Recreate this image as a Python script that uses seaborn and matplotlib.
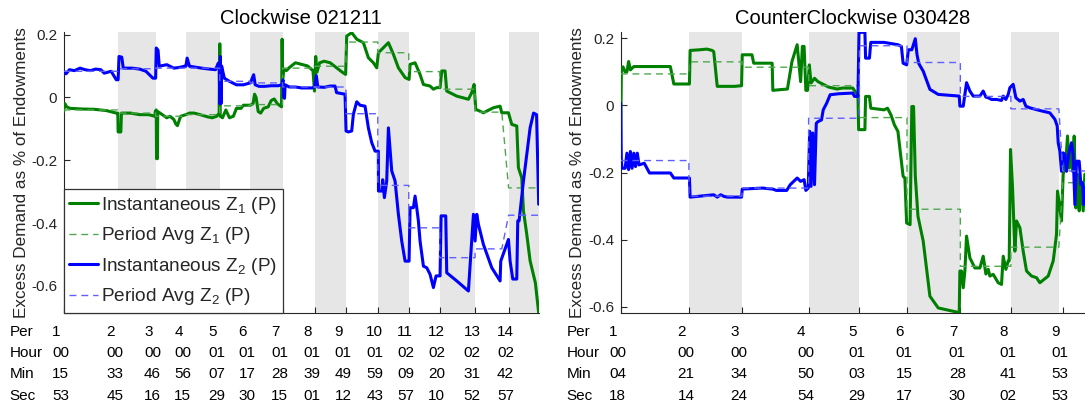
import matplotlib
matplotlib.use("Agg")
import matplotlib.pyplot as plt
import matplotlib.transforms as mtransforms
from matplotlib.lines import Line2D
import seaborn as sns

# ---------------- data (time in minutes since session start 00:00:00) ----------------
# Left panel: Clockwise 021211
per_L = ["1", "2", "3", "4", "5", "6", "7", "8", "9", "10", "11", "12", "13", "14"]
hour_L = ["00", "00", "00", "00", "01", "01", "01", "01", "01", "01", "02", "02", "02", "02"]
min_L = ["15", "33", "46", "56", "07", "17", "28", "39", "49", "59", "09", "20", "31", "42"]
sec_L = ["53", "45", "16", "15", "29", "30", "15", "01", "12", "43", "57", "10", "52", "57"]
end_L = [33.75, 46.27, 56.25, 67.48, 77.5, 88.25, 99.02, 109.2, 119.72, 129.95,
         140.17, 151.87, 160.7, 173.0]
avg_z1_L = [-0.04, -0.05, -0.06, -0.055, -0.027, -0.023, 0.093, 0.099, 0.176, 0.142,
            0.082, 0.026, -0.047, -0.288]
avg_z2_L = [0.083, 0.091, 0.093, 0.093, 0.051, 0.046, 0.033, 0.033, -0.052, -0.28,
            -0.415, -0.51, -0.482, -0.375]

t_z1_L = [15.89, 16.3, 16.9, 18.0, 22, 26, 30, 33.3, 33.8, 33.9, 34.8, 35.0, 38, 41, 44, 46.0,
          46.2, 46.5, 46.6, 46.9, 47.0, 48.5, 50.0, 51, 52.3, 53.0, 53.5, 54.2, 54.6, 56.3,
          57.5, 59, 61, 63.5, 65, 66.5, 67.3, 67.45, 67.55, 67.65, 68.4, 69.5, 70.7, 72, 73,
          74.5, 75.3, 77.6, 78.5, 79.0, 79.5, 80.2, 81.0, 82.0, 83.5, 84.5, 85.5, 86.5, 87.9,
          88.1, 88.3, 88.6, 89.5, 90.5, 92.5, 94.5, 96.5, 98.3, 98.8, 99.2, 99.6, 100.5, 102,
          104, 106.1, 108.0, 109.1, 109.45, 111.1, 112.76, 114.96, 116.61, 118.27, 119.37,
          119.92, 121.57, 123.23, 124.88, 126.53, 128.74, 130.06, 130.39, 132.04, 133.69,
          134.8, 137.0, 138.1, 139.2, 140.3, 140.86, 141.96, 142.51, 145.82, 149.67, 150.77,
          151.55, 152.1, 154.63, 157.94, 160.14, 160.69, 162.9, 164.0, 165.65, 166.2, 167.3,
          167.86, 168.96, 170.06, 171.8, 172.9]
z1_L = [-0.045, -0.02, -0.03, -0.035, -0.037, -0.038, -0.042, -0.05, -0.05, -0.11, -0.11,
        -0.05, -0.05, -0.055, -0.055, -0.06, -0.045, -0.04, -0.195, -0.195, -0.045, -0.055,
        -0.065, -0.06, -0.07, -0.085, -0.09, -0.07, -0.06, -0.055, -0.05, -0.05, -0.055,
        -0.062, -0.065, -0.06, -0.05, 0.17, 0.17, -0.06, -0.065, -0.04, -0.065, -0.06,
        -0.035, -0.035, -0.025, -0.025, -0.02, 0.01, 0.0, -0.045, -0.05, -0.035, -0.03,
        -0.01, -0.005, -0.02, -0.03, 0.185, 0.06, 0.09, 0.085, 0.095, 0.11, 0.105, 0.1,
        0.085, 0.02, 0.13, 0.08, 0.11, 0.115, 0.11, 0.094, 0.08, 0.073, 0.195, 0.206, 0.185,
        0.174, 0.126, 0.11, 0.094, 0.142, 0.158, 0.174, 0.137, 0.094, 0.063, 0.057, 0.105,
        0.11, 0.073, 0.041, 0.036, 0.026, 0.031, 0.031, 0.084, 0.084, 0.02, 0.004, -0.006,
        0.015, 0.041, -0.038, -0.049, -0.033, -0.028, -0.049, -0.049, -0.086, -0.091,
        -0.224, -0.256, -0.361, -0.436, -0.52, -0.59, -0.686]

t_z2_L = [15.89, 16.7, 17.8, 19.5, 21.3, 23, 24.7, 26.5, 28.2, 29.3, 31.6, 33.3, 33.9, 34.2,
          35.1, 35.6, 38.5, 41, 43.1, 45.4, 46.3, 46.5, 47.1, 47.5, 50.0, 52.3, 54, 55.8, 56.3,
          56.7, 57.5, 61.5, 64, 66.1, 67.0, 67.3, 67.5, 67.7, 67.9, 68.1, 69.0, 70.7, 73.0,
          75.3, 77.6, 78.7, 79.2, 80.5, 82.2, 84.5, 86.8, 88.0, 88.4, 88.6, 88.9, 89.1, 90.5,
          92.5, 94.5, 96.0, 98.0, 98.85, 99.4, 99.9, 102, 104.0, 105.6, 106.1, 108.9, 109.23,
          110.0, 111.1, 111.65, 112.76, 113.86, 115.51, 116.61, 117.72, 118.82, 119.9,
          119.95, 121.02, 121.35, 121.9, 122.67, 123.23, 124.33, 125.43, 126.53, 127.63,
          128.74, 130.06, 130.39, 131.49, 132.04, 132.59, 133.14, 133.69, 134.8, 135.9,
          137.0, 138.1, 138.98, 140.3, 140.64, 142.18, 142.51, 145.82, 149.67, 151.33,
          151.88, 152.43, 152.98, 154.63, 157.39, 160.14, 160.36, 162.9, 163.45, 164.33,
          165.65, 165.98, 166.42, 167.86, 170.06, 171.2, 172.2, 172.9]
z2_L = [0.083, 0.075, 0.088, 0.085, 0.093, 0.088, 0.085, 0.09, 0.088, 0.077, 0.083, 0.056,
        0.056, 0.13, 0.128, 0.093, 0.093, 0.09, 0.083, 0.061, 0.061, 0.157, 0.15, 0.099,
        0.104, 0.093, 0.095, 0.099, 0.099, 0.125, 0.099, 0.093, 0.09, 0.088, 0.109, 0.099,
        -0.02, 0.13, -0.02, 0.1, 0.061, 0.051, 0.04, 0.04, 0.046, 0.072, 0.04, 0.035, 0.035,
        0.037, 0.037, 0.04, 0.056, 0.0, -0.003, 0.04, 0.033, 0.033, 0.03, 0.03, 0.03, 0.033,
        0.069, 0.033, 0.032, 0.036, 0.036, 0.015, 0.01, -0.107, -0.11, -0.107, -0.054,
        -0.014, -0.025, -0.028, -0.097, -0.144, -0.171, -0.171, -0.298, -0.298, -0.262,
        -0.319, -0.266, -0.097, -0.234, -0.266, -0.372, -0.457, -0.521, -0.521, -0.351,
        -0.351, -0.314, -0.351, -0.393, -0.457, -0.537, -0.542, -0.563, -0.605, -0.568,
        -0.568, -0.377, -0.377, -0.558, -0.584, -0.616, -0.372, -0.457, -0.372, -0.404,
        -0.468, -0.542, -0.584, -0.521, -0.452, -0.521, -0.578, -0.578, -0.393, -0.393,
        -0.266, -0.097, -0.05, -0.055, -0.34]

# Right panel: CounterClockwise 030428
per_R = ["1", "2", "3", "4", "5", "6", "7", "8", "9"]
hour_R = ["00", "00", "00", "00", "01", "01", "01", "01", "01"]
min_R = ["04", "21", "34", "50", "03", "15", "28", "41", "53"]
sec_R = ["18", "14", "24", "54", "29", "17", "30", "02", "53"]
end_R = [21.23, 34.4, 50.9, 63.48, 75.28, 88.5, 101.03, 112.92, 119.4]
avg_z1_R = [0.094, 0.130, 0.114, 0.059, -0.036, -0.309, -0.479, -0.422, -0.23]
avg_z2_R = [-0.164, -0.27, -0.246, -0.038, 0.178, 0.128, 0.027, -0.01, -0.195]

t_z1_R = [4.31, 4.5, 4.9, 5.4, 5.86, 6.29, 6.72, 7.58, 10.17, 16.63, 17.49, 21.36, 21.53,
          23.95, 25.67, 27.0, 27.39, 28.25, 29.97, 32.56, 34.28, 34.45, 36.86, 37.29, 39.45,
          41.86, 42.03, 43.75, 45.65, 46.77, 48.06, 48.92, 49.35, 49.78, 50.21, 50.64, 51.07,
          51.5, 52.36, 53.23, 55.81, 57.96, 59.25, 61.84, 62.7, 63.13, 63.3, 64.85, 65.02,
          65.97, 66.31, 69.59, 70.45, 71.31, 72.17, 73.03, 74.32, 74.76, 75.19, 76.05, 76.48,
          76.91, 77.34, 78.0, 79.3, 80.96, 83.02, 88.23, 88.39, 88.8, 89.22, 89.63, 90.04,
          90.87, 92.11, 93.35, 94.17, 94.83, 95.41, 95.82, 96.65, 97.89, 98.71, 99.13, 99.79,
          100.37, 100.61, 100.94, 101.44, 102.02, 102.43, 103.26, 104.08, 104.91, 106.15,
          107.39, 108.21, 110.28, 111.52, 112.34, 112.59, 113.17, 113.58, 113.99, 114.65,
          115.07, 115.48, 115.89, 116.31, 116.72, 117.13, 117.55, 117.96, 118.37, 118.95,
          119.36]
z1_R = [-0.10, 0.11, 0.115, 0.1, 0.10, 0.131, 0.106, 0.116, 0.116, 0.116, 0.064, 0.064,
        0.164, 0.166, 0.168, 0.164, 0.16, 0.057, 0.057, 0.057, 0.059, 0.151, 0.151, 0.126,
        0.126, 0.126, 0.045, 0.047, 0.049, 0.131, 0.181, 0.071, 0.176, 0.176, 0.045, 0.045,
        0.121, 0.067, 0.081, 0.071, 0.055, 0.049, 0.052, 0.052, 0.037, 0.027, -0.072,
        -0.072, 0.027, 0.027, -0.008, -0.013, -0.008, -0.028, -0.058, -0.077, -0.211,
        -0.216, -0.35, -0.355, -0.003, -0.003, -0.21, -0.33, -0.404, -0.568, -0.603, -0.617,
        -0.493, -0.493, -0.543, -0.493, -0.389, -0.454, -0.484, -0.484, -0.449, -0.502,
        -0.488, -0.508, -0.503, -0.528, -0.533, -0.449, -0.488, -0.463, -0.463, -0.131,
        -0.245, -0.434, -0.344, -0.364, -0.434, -0.493, -0.508, -0.513, -0.528, -0.508,
        -0.463, -0.384, -0.255, -0.305, -0.344, -0.205, -0.166, -0.091, -0.186, -0.126,
        -0.196, -0.091, -0.305, -0.205, -0.314, -0.225, -0.314, -0.205]

t_z2_R = [4.31, 4.48, 4.65, 5.43, 5.86, 6.29, 6.72, 7.15, 7.58, 8.01, 8.44, 8.87, 10.17,
          11.46, 12.75, 16.63, 17.49, 21.36, 21.53, 24.81, 27.39, 28.25, 29.11, 29.97, 30.83,
          34.28, 34.45, 39.45, 42.03, 42.89, 45.47, 46.34, 48.06, 48.92, 49.78, 50.21, 50.81,
          51.16, 51.5, 51.93, 52.36, 52.8, 53.23, 54.09, 54.52, 55.38, 56.24, 58.4, 61.84,
          62.27, 63.13, 63.39, 64.85, 65.02, 65.97, 66.31, 69.59, 73.03, 73.89, 74.32, 75.19,
          75.62, 76.48, 77.34, 77.77, 78.2, 79.31, 80.96, 83.02, 88.23, 88.39, 89.22, 89.63,
          90.04, 90.87, 91.69, 93.35, 94.17, 94.83, 95.41, 96.24, 97.48, 98.71, 99.13, 99.79,
          100.37, 100.78, 101.6, 102.27, 103.26, 104.08, 104.74, 105.73, 108.21, 110.69,
          111.93, 112.51, 112.76, 113.17, 113.58, 113.99, 114.41, 114.82, 115.48, 116.06,
          116.47, 116.89, 117.3, 117.96, 118.37, 118.78, 119.11, 119.36]
z2_R = [0.007, -0.162, -0.187, -0.187, -0.142, -0.191, -0.137, -0.187, -0.142, -0.182,
        -0.142, -0.177, -0.172, -0.201, -0.201, -0.201, -0.216, -0.216, -0.273, -0.269,
        -0.266, -0.273, -0.266, -0.271, -0.273, -0.273, -0.249, -0.246, -0.249, -0.253,
        -0.253, -0.236, -0.216, -0.226, -0.221, -0.253, -0.246, -0.077, -0.241, -0.082,
        -0.236, -0.053, -0.048, -0.043, -0.013, 0.007, 0.032, 0.035, 0.037, 0.027, 0.027,
        0.218, 0.218, 0.141, 0.141, 0.188, 0.188, 0.181, 0.176, 0.126, 0.121, 0.166, 0.166,
        0.199, 0.151, 0.125, 0.102, 0.048, 0.033, 0.028, -0.002, -0.002, 0.033, 0.068,
        0.043, 0.028, 0.028, 0.043, 0.025, 0.023, 0.018, 0.018, 0.015, 0.028, 0.018, 0.033,
        0.053, 0.063, 0.023, 0.013, 0.018, -0.002, -0.007, -0.015, -0.022, -0.041, -0.061,
        -0.111, -0.136, -0.196, -0.141, -0.146, -0.196, -0.136, -0.111, -0.146, -0.295,
        -0.166, -0.166, -0.235, -0.23, -0.295, -0.245]

ytick_values = [-0.6, -0.4, -0.2, 0, 0.2]
ytick_labels = ["-0.6", "-0.4", "-0.2", "0", "0.2"]
row_names = ["Per", "Hour", "Min", "Sec"]
legend_labels = [r"Instantaneous Z$_{\mathregular{1}}$ (P)", r"Period Avg Z$_{\mathregular{1}}$ (P)",
                 r"Instantaneous Z$_{\mathregular{2}}$ (P)", r"Period Avg Z$_{\mathregular{2}}$ (P)"]

# ---------------- style ----------------
sns.set_theme(style="white")
plt.rcParams["font.family"] = ["Liberation Sans", "DejaVu Sans"]
plt.rcParams["axes.unicode_minus"] = False

W, H = 1085, 405
fig = plt.figure(figsize=(W / 100, H / 100), dpi=100)

GREEN = "#008000"
BLUE = "#0000ff"
GREEN_AVG = "#4fa84f"
BLUE_AVG = "#6060ff"
GRAY = "#e6e6e6"
DARK = "#262626"
ROW_Y = [331.5, 352.8, 373.6, 395.5]
DASH = (0, (5, 3.5))


def add_axes_px(left, top, right, bottom):
    return fig.add_axes([left / W, 1 - bottom / H, (right - left) / W, (bottom - top) / H])


def starts_from(hours, mins, secs):
    return [int(h) * 60 + int(m) + int(s) / 60 for h, m, s in zip(hours, mins, secs)]


def panel(ax, title, per, hours, mins, secs, ends, avg1, avg2, t1, z1, t2, z2, ylim, xend,
          ylabel_x):
    starts = starts_from(hours, mins, secs)
    for i in range(1, len(starts), 2):
        ax.axvspan(starts[i], ends[i], color=GRAY, lw=0, zorder=0.5)

    avg_x = []
    for s, e in zip(starts, ends):
        avg_x += [s, e]
    a1 = [v for v in avg1 for _ in range(2)]
    a2 = [v for v in avg2 for _ in range(2)]

    sns.lineplot(x=t1, y=z1, ax=ax, estimator=None, sort=False, color=GREEN, lw=2.2,
                 zorder=3, legend=False)
    sns.lineplot(x=avg_x, y=a1, ax=ax, estimator=None, sort=False, color=GREEN_AVG, lw=1.0,
                 linestyle=DASH, zorder=3.1, legend=False)
    sns.lineplot(x=t2, y=z2, ax=ax, estimator=None, sort=False, color=BLUE, lw=2.2,
                 zorder=3.2, legend=False)
    sns.lineplot(x=avg_x, y=a2, ax=ax, estimator=None, sort=False, color=BLUE_AVG, lw=1.0,
                 linestyle=DASH, zorder=3.3, legend=False)

    ax.set_xlim(starts[0], xend)
    ax.set_ylim(*ylim)
    ax.set_xticks(starts)
    ax.set_xticklabels([])
    ax.set_yticks(ytick_values)
    ax.set_yticklabels(ytick_labels)
    ax.set_axisbelow(False)
    ax.tick_params(axis="x", bottom=True, direction="in", length=4, width=0.8, color=DARK)
    ax.tick_params(axis="y", left=True, direction="in", length=4, width=0.8, color=DARK,
                   labelsize=11, labelcolor=DARK, pad=4.5)
    for side in ("top", "right"):
        ax.spines[side].set_visible(False)
    for side in ("left", "bottom"):
        ax.spines[side].set_color(DARK)
        ax.spines[side].set_linewidth(0.8)
    ax.spines["bottom"].set_zorder(0.3)
    ax.set_xlabel("")
    ax.set_ylabel("Excess Demand as % of Endowments", fontsize=12.3, color=DARK)
    ax.yaxis.set_label_coords(ylabel_x, 0.5)
    ax.set_title(title, fontsize=14.5, pad=6, color="black")

    # period / clock-time table under the axis
    rows = [per, hours, mins, secs]
    base = mtransforms.blended_transform_factory(ax.transData, fig.transFigure)
    trans = mtransforms.offset_copy(base, fig=fig, x=-11.5 * 0.72, y=0, units="points")
    for r, vals in enumerate(rows):
        yf = 1 - ROW_Y[r] / H
        for s, lab in zip(starts, vals):
            ax.text(s, yf, lab, transform=trans, ha="left", va="center", fontsize=11,
                    color="black", clip_on=False)
    base2 = mtransforms.blended_transform_factory(ax.transAxes, fig.transFigure)
    trans2 = mtransforms.offset_copy(base2, fig=fig, x=-54 * 0.72, y=0, units="points")
    for r, name in enumerate(row_names):
        ax.text(0, 1 - ROW_Y[r] / H, name, transform=trans2, ha="left", va="center",
                fontsize=11, color="black", clip_on=False)


axL = add_axes_px(63.6, 32.3, 539, 313)
axR = add_axes_px(620.6, 32.3, 1085, 313.3)

panel(axL, "Clockwise 021211", per_L, hour_L, min_L, sec_L, end_L, avg_z1_L, avg_z2_L,
      t_z1_L, z1_L, t_z2_L, z2_L, (-0.686, 0.207), 173.0, -0.0736)
panel(axR, "CounterClockwise 030428", per_R, hour_R, min_R, sec_R, end_R, avg_z1_R, avg_z2_R,
      t_z1_R, z1_R, t_z2_R, z2_R, (-0.619, 0.218), 119.4, -0.0777)

handles = [Line2D([], [], color=GREEN, lw=2.2),
           Line2D([], [], color=GREEN_AVG, lw=1.0, linestyle=DASH),
           Line2D([], [], color=BLUE, lw=2.2),
           Line2D([], [], color=BLUE_AVG, lw=1.0, linestyle=DASH)]
leg = axL.legend(handles, legend_labels, loc="lower left", bbox_to_anchor=(0, 0),
                 borderaxespad=0, fontsize=13.7, frameon=True, fancybox=False,
                 edgecolor="#333333", framealpha=1, handlelength=1.5, handletextpad=0.18,
                 labelspacing=0.5, borderpad=0.3)
leg.get_frame().set_linewidth(0.9)
leg.set_zorder(10)

fig.savefig("out.png", dpi=100)
